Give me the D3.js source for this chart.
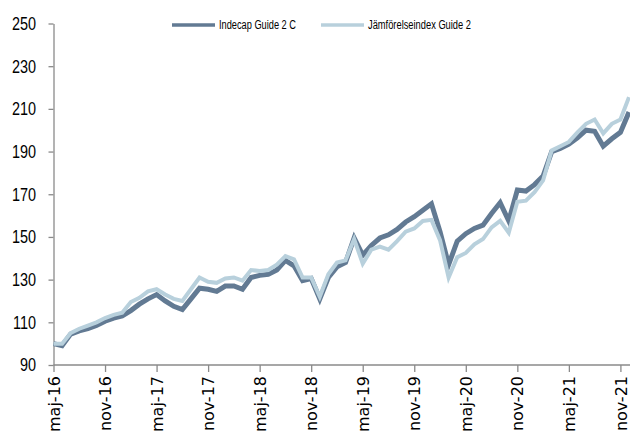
<!DOCTYPE html>
<meta charset="utf-8">
<html>
<head>
<title>Indecap Guide 2 C</title>
<script src="https://cdn.jsdelivr.net/npm/d3@7/dist/d3.min.js"></script>
<style>
  body { margin: 0; background: #fff; }
  svg { display: block; }
  .axis path, .axis line { stroke: #8a8a8a; stroke-width: 1.3px; }
  .y-axis text { font-family: "Liberation Sans", Arial, sans-serif; font-size: 18.5px; fill: #000; }
  .x-axis text { font-family: "DejaVu Sans", Verdana, sans-serif; font-size: 16px; fill: #000; }
  .legend text { font-family: "Liberation Sans", Arial, sans-serif; font-size: 12px; fill: #000; }
</style>
</head>
<body>
<svg id="chart"></svg>
<script>
// series names
var seriesNames = ["Indecap Guide 2 C", "Jämförelseindex Guide 2"];

// monthly values, maj-16 .. dec-21
var indecap = [100, 99, 104.5, 106, 107, 108.5, 110.5, 112, 113, 115.5,
    118.5, 121, 123, 120, 117.5, 116, 121, 126, 125.5, 124.5,
    127, 127, 125.5, 131, 132, 132.5, 134.5, 139, 136.5, 129.5,
    130.5, 121, 131, 136, 138, 149.5, 141.5, 146, 149.5, 151,
    153.5, 157, 159.5, 162.5, 165.5, 152.5, 137, 148, 151.5, 154,
    155.5, 161, 166, 157.5, 172, 171.5, 174.5, 178.5, 190, 191.5,
    193.5, 196.5, 200, 199.5, 192.5, 196, 199, 208.5];

var jamforelse = [100, 100, 105, 107, 108.5, 110, 112, 113.5, 114.5, 119.5,
    121.5, 124.5, 125.5, 123, 121, 120, 125.5, 131, 129, 128.5,
    130.5, 131, 129.5, 134.5, 134, 134.5, 137, 141, 139.5, 131,
    131, 122, 132.5, 138, 139, 149, 137.5, 144, 145.5, 144,
    148, 152.5, 154, 157.5, 158, 148.5, 131, 140.5, 142.5, 146.5,
    149, 154.5, 157.5, 152, 166.5, 167, 171, 176.5, 190.5, 192.5,
    194.5, 199, 203, 205, 198.5, 203, 205, 215.5];

// x tick labels, every sixth month
var tickLabels = ["maj-16", "nov-16", "maj-17", "nov-17", "maj-18", "nov-18",
    "maj-19", "nov-19", "maj-20", "nov-20", "maj-21", "nov-21"];

var yTicks = [90, 110, 130, 150, 170, 190, 210, 230, 250];

var width = 630, height = 441;
var colors = ["#627a93", "#b8d0dc"];

var svg = d3.select("#chart").attr("width", width).attr("height", height);

var n = indecap.length;
var x = d3.scaleLinear().domain([0, n - 1]).range([53.5, 629]);
var y = d3.scaleLinear().domain([90, 250]).range([365, 23.5]);

// axes
var yAxis = svg.append("g")
    .attr("class", "axis y-axis")
    .attr("transform", "translate(53.5,0)")
    .call(d3.axisLeft(y).tickValues(yTicks).tickSize(5).tickSizeOuter(0));

// narrow digits like the original
yAxis.selectAll("text")
    .attr("x", -17.5 / 0.78)
    .attr("transform", "scale(0.78,1)");

var xAxis = svg.append("g")
    .attr("class", "axis x-axis")
    .attr("transform", "translate(0,365)")
    .call(d3.axisBottom(x)
        .tickValues(d3.range(0, n, 6))
        .tickFormat(function(d, i) { return tickLabels[i]; })
        .tickSize(7)
        .tickSizeOuter(0));

xAxis.select(".domain").attr("d", "M53.5,0H" + width);

xAxis.selectAll("text")
    .attr("text-anchor", "end")
    .attr("transform", "rotate(-90)")
    .attr("x", -11)
    .attr("y", 0)
    .attr("dy", "0.35em");

// lines
var line = d3.line()
    .x(function(d, i) { return x(i); })
    .y(function(d) { return y(d); });

svg.append("path")
    .datum(indecap)
    .attr("fill", "none")
    .attr("stroke", colors[0])
    .attr("stroke-width", 5)
    .attr("stroke-linejoin", "miter")
    .attr("d", line);

svg.append("path")
    .datum(jamforelse)
    .attr("fill", "none")
    .attr("stroke", colors[1])
    .attr("stroke-width", 4)
    .attr("stroke-linejoin", "miter")
    .attr("d", line);

// legend
var legend = svg.append("g").attr("class", "legend");
var legendX = [172, 321];
var legendTextLen = [77, 103];
seriesNames.forEach(function(name, i) {
    legend.append("line")
        .attr("x1", legendX[i]).attr("x2", legendX[i] + 43)
        .attr("y1", 25).attr("y2", 25)
        .attr("stroke", colors[i])
        .attr("stroke-width", 3.5);
    legend.append("text")
        .attr("x", legendX[i] + 47)
        .attr("y", 25)
        .attr("dy", "0.35em")
        .attr("textLength", legendTextLen[i])
        .attr("lengthAdjust", "spacingAndGlyphs")
        .text(name);
});
</script>
</body>
</html>
